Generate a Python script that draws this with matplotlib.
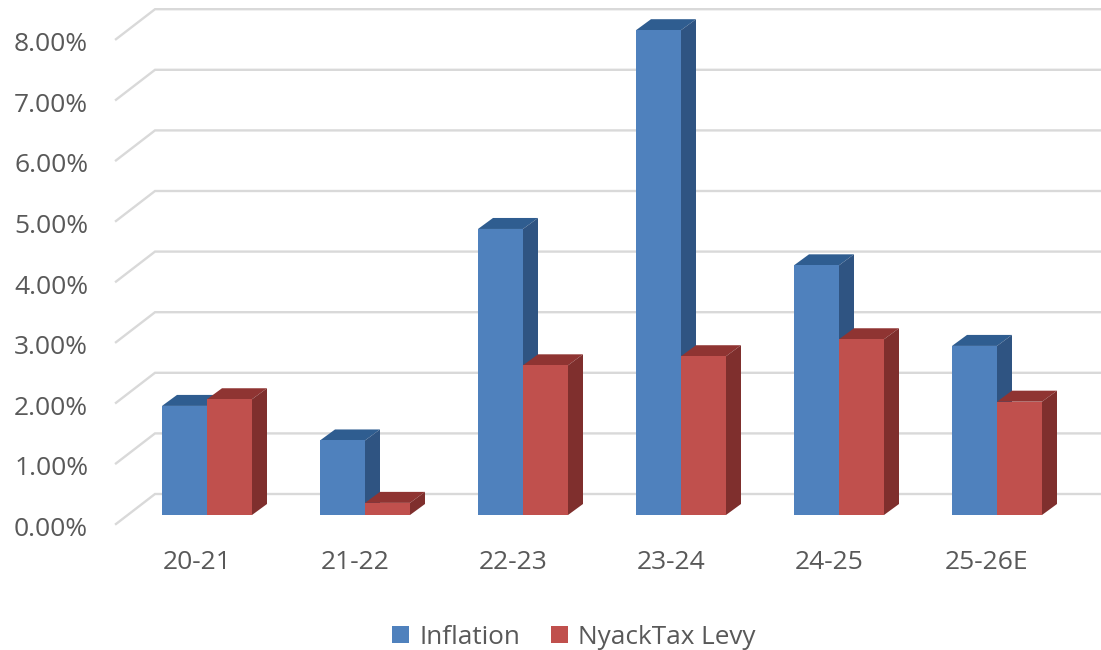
import matplotlib
matplotlib.use("Agg")
import numpy as np
import matplotlib.pyplot as plt
from matplotlib.patches import Polygon, Patch
from matplotlib.transforms import ScaledTranslation

plt.rcParams['font.family'] = ['Open Sans', 'DejaVu Sans']

periods = ['20-21', '21-22', '22-23', '23-24', '24-25', '25-26E']
inflation = [1.80, 1.23, 4.72, 8.00, 4.12, 2.79]
levy = [1.91, 0.20, 2.47, 2.62, 2.90, 1.87]
y_labels = ['0.00%', '1.00%', '2.00%', '3.00%', '4.00%', '5.00%', '6.00%', '7.00%', '8.00%']

# pixel scale of the chart, one category = 158 px, one percent = 60.6 px
PX_X = 158.0
PX_Y = 60.6
W, H = 1101, 650
LEFT, BOTTOM = 116, 524
X0 = 207
Y0 = 515

def dx(px):
    return px / PX_X

def dy(px):
    return px / PX_Y

def draw_bar(ax, x, val, front, top, side):
    w = dx(45)
    ax.bar(x, val, width=w, align='edge', color=front, linewidth=0, zorder=3)
    ddx, ddy = dx(15), dy(11)
    ax.add_patch(Polygon([(x, val), (x + w, val), (x + w + ddx, val + ddy), (x + ddx, val + ddy)],
                         closed=True, facecolor=top, edgecolor='none', zorder=2))
    ax.add_patch(Polygon([(x + w, 0), (x + w + ddx, ddy), (x + w + ddx, val + ddy), (x + w, val)],
                         closed=True, facecolor=side, edgecolor='none', zorder=2))

fig = plt.figure(figsize=(W / 100, H / 100), dpi=100, facecolor='white')
ax = fig.add_axes([LEFT / W, 1 - BOTTOM / H, (W - LEFT) / W, BOTTOM / H])
ax.set_xlim((LEFT - X0) / PX_X, (W - X0) / PX_X)
ax.set_ylim(-(BOTTOM - Y0) / PX_Y, Y0 / PX_Y)
for s in ax.spines.values():
    s.set_visible(False)

# floor and back wall gridlines
front_off = (BOTTOM - Y0) / PX_Y
back_off = dy(21)
x_front = (LEFT - X0) / PX_X
x_back = (155 - X0) / PX_X
for v in range(len(y_labels)):
    ax.plot([x_front, x_back, (W - X0) / PX_X], [v - front_off, v + back_off, v + back_off],
            color='#d9d9d9', lw=1.7, solid_joinstyle='miter', zorder=1, clip_on=False)

# each levy bar after its inflation bar so it sits on top of the blue side
for i in range(len(periods)):
    draw_bar(ax, i - dx(45), inflation[i], '#4f81bd', '#2f5d90', '#2f5482')
    draw_bar(ax, i, levy[i], '#c0504d', '#8f3432', '#7f2f2d')

ax.set_xticks(np.arange(len(periods)) - dx(10))
ax.set_xticklabels(periods)
ax.set_yticks(np.arange(len(y_labels)) - front_off)
ax.set_yticklabels(y_labels)
ax.tick_params(axis='x', length=0, pad=19, labelsize=19, labelcolor='#595959')
ax.tick_params(axis='y', length=0, pad=20, labelsize=19, labelcolor='#595959')

# tick labels sit a bit under the end of the floor lines
shift = ScaledTranslation(0, -2.5 / 100, fig.dpi_scale_trans)
for lab in ax.get_yticklabels():
    lab.set_transform(lab.get_transform() + shift)

handles = [Patch(facecolor='#4f81bd', label='Inflation'), Patch(facecolor='#c0504d', label='NyackTax Levy')]
fig.legend(handles=handles, loc='center', bbox_to_anchor=(574 / W, 1 - 637 / H), ncol=2, frameon=False,
           fontsize=18.8, labelcolor='#595959', handlelength=0.65, handleheight=0.65,
           handletextpad=0.4, columnspacing=1.15)

fig.savefig('out.png', dpi=100, facecolor='white')
